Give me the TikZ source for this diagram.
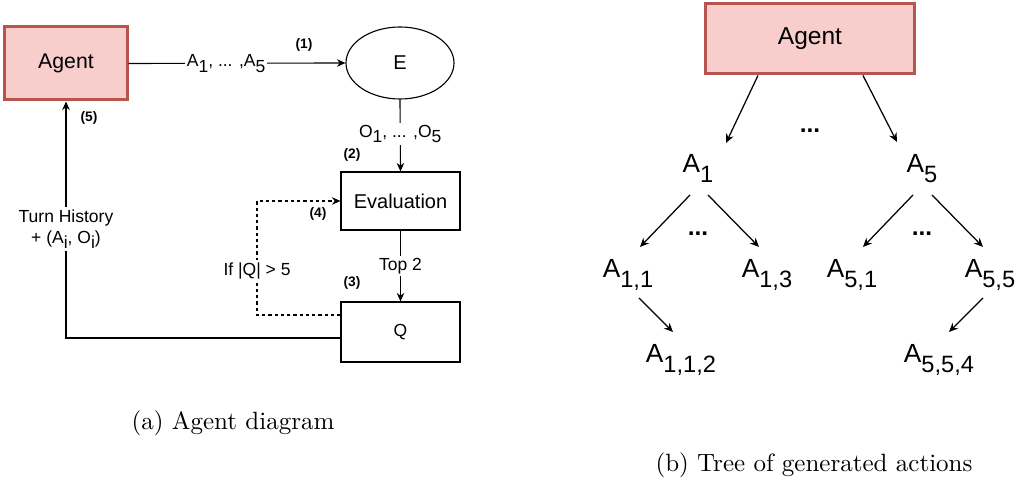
\documentclass[tikz,border=0pt]{standalone}
\usepackage{fontspec}
\newfontfamily\arial{Liberation Sans}
\usetikzlibrary{arrows.meta,shapes.geometric,calc}
\definecolor{agentfill}{HTML}{F8CECC}
\definecolor{agentdraw}{HTML}{B85450}
\makeatletter
\newcommand\lo[1]{\raisebox{-0.33em}{#1}}
\newcommand\tlo[1]{\raisebox{-0.36em}{\fontsize{0.9\dimexpr\f@size pt\relax}{1\dimexpr\f@size pt\relax}\selectfont #1}}
\makeatother
\tikzset{
  x=0.4pt, y=-0.4pt,
  nodefont/.style={font=\arial\fontsize{8}{9.6}\selectfont},
  lblfont/.style={font=\arial\fontsize{7}{8.4}\selectfont},
  stepnum/.style={font=\arial\bfseries\fontsize{5.5}{6.6}\selectfont, inner sep=0pt},
  treefont/.style={font=\arial\fontsize{10.5}{12.6}\selectfont},
  dotsfont/.style={font=\arial\bfseries\fontsize{9.8}{11.8}\selectfont, inner sep=0pt},
  agentbox/.style={draw=agentdraw, fill=agentfill, line width=1.2pt, inner sep=0pt},
  plainbox/.style={draw=black, line width=0.45pt, inner sep=0pt, minimum width=47.6pt},
  lbl/.style={lblfont, fill=white, inner sep=0.8pt},
  arr/.style={draw=black, line width=0.45pt, -{Stealth[length=3.4pt,width=3pt]}},
  dasharr/.style={arr, dash pattern=on 1.3pt off 1.2pt},
  tarr/.style={draw=black, line width=0.5pt, -{Stealth[length=3.6pt,width=3.2pt]}},
  leaf/.style={treefont, anchor=base, inner sep=0pt},
  captext/.style={font=\fontsize{10}{12}\selectfont, anchor=base, inner sep=0pt}
}
\begin{document}
\begin{tikzpicture}
\useasboundingbox (0,0) rectangle (1016,484);
% ---------- (a) Agent diagram ----------
\node[agentbox, font=\arial\fontsize{8.5}{10.2}\selectfont, minimum width=48.8pt, minimum height=29.2pt] (agentL) at (66,63.5) {Agent};
\node[ellipse, draw=black, line width=0.45pt, nodefont, minimum width=43.2pt, minimum height=28.8pt, inner sep=0pt] (E) at (400,63) {E};
\node[plainbox, nodefont, minimum height=23.2pt] (eval) at (400.5,201) {Evaluation};
\node[plainbox, font=\arial\fontsize{7}{8.4}\selectfont, minimum height=24pt] (Q) at (400.5,332) {Q};

\coordinate (d1) at (257,315);
\coordinate (d2) at (257,201);
\coordinate (s1) at (66,338);

\draw[arr] (agentL.east) -- node[lbl, pos=0.45] {A\lo{1}, ... ,A\lo{5}} (E.west);
\draw[arr] (E.south) -- node[lbl, pos=0.48] {O\lo{1}, ... ,O\lo{5}} (eval.north);
\draw[arr] (eval.south) -- node[lbl, pos=0.5] {Top 2} (Q.north);
\draw[dasharr] (Q.west |- d1) -- (d1) -- node[lbl, pos=0.39] {If |Q| > 5} (d2) -- (eval.west);
\draw[arr] (Q.west |- s1) -- (s1) -- node[lbl, pos=0.46, align=center] {Turn History\\+ (A\lo{i}, O\lo{i})} (agentL.south);

\node[stepnum] (n1) at (304,45) {(1)};
\node[stepnum] (n2) at (352,155) {(2)};
\node[stepnum] (n3) at (352,283) {(3)};
\node[stepnum] (n4) at (318,214) {(4)};
\node[stepnum] (n5) at (89,118) {(5)};

\node[captext] (capa) at (233,430) {(a) Agent diagram};

% ---------- (b) Tree ----------
\node[agentbox, font=\arial\fontsize{9.8}{11.8}\selectfont, minimum width=83.6pt, minimum height=28pt] (agentR) at (810,39) {Agent};
\node[leaf] (a1) at (698,173) {A\tlo{1}};
\node[leaf] (a5) at (922,173) {A\tlo{5}};
\node[leaf] (a11) at (628,278) {A\tlo{1,1}};
\node[leaf] (a13) at (767,278) {A\tlo{1,3}};
\node[leaf] (a51) at (852,278) {A\tlo{5,1}};
\node[leaf] (a55) at (990,278) {A\tlo{5,5}};
\node[leaf] (a112) at (681,363) {A\tlo{1,1,2}};
\node[leaf] (a554) at (939,363) {A\tlo{5,5,4}};
\node[dotsfont] (dots0) at (810,131) {...};
\node[dotsfont] (dots1) at (698,234) {...};
\node[dotsfont] (dots5) at (922,234) {...};

\draw[tarr] ($(agentR.south)+(-52,0)$) -- ($(a1.base)+(28,-30)$);
\draw[tarr] ($(agentR.south)+(53,0)$) -- ($(a5.base)+(-25,-31)$);
\draw[tarr] ($(a1.base)+(-8,22)$) -- ($(a11.base)+(12,-31)$);
\draw[tarr] ($(a1.base)+(10,22)$) -- ($(a13.base)+(-8,-31)$);
\draw[tarr] ($(a5.base)+(-9,22)$) -- ($(a51.base)+(11,-31)$);
\draw[tarr] ($(a5.base)+(10,22)$) -- ($(a55.base)+(-7,-31)$);
\draw[tarr] ($(a11.base)+(11,20)$) -- ($(a112.base)+(-8,-31)$);
\draw[tarr] ($(a55.base)+(-7,20)$) -- ($(a554.base)+(10,-31)$);

\node[captext] (capb) at (814,472) {(b) Tree of generated actions};
\end{tikzpicture}
\end{document}
